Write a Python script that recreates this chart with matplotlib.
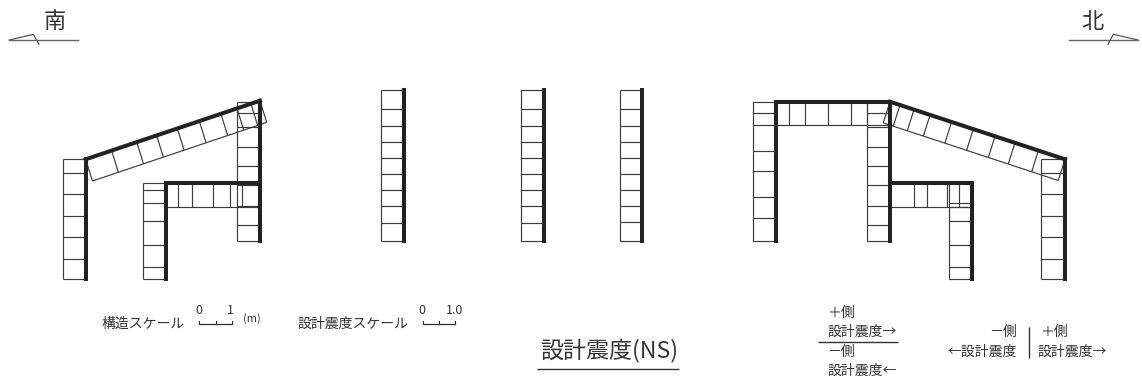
import matplotlib
matplotlib.use('Agg')
import matplotlib.pyplot as plt
import numpy as np

plt.rcParams['font.family'] = ['Noto Sans CJK JP', 'DejaVu Sans']

# ---- Structure data (drawing units = reference pixels) ----
# Columns: left edge, right edge (thick side), cell boundary levels
COLUMNS = [
    # south frames
    (62.7, 85.7, [159.3, 173.3, 194.3, 216, 237.3, 258.7, 279.3]),
    (142.7, 166, [183.3, 190, 202.7, 220.7, 244.7, 267.3, 279.3]),
    (237, 260, [101.7, 112.7, 127.3, 146.7, 166, 185.3, 206, 225.3, 241.3]),
    # three free-standing walls
    (381.3, 403.8, [90.3, 109.3, 125.7, 141.7, 157.7, 173.7, 189.7, 205.7, 223.3, 241]),
    (520.7, 543.8, [90.3, 109.3, 125.7, 141.7, 157.7, 173.7, 189.7, 205.7, 223.3, 241]),
    (620, 642.2, [90.3, 109.3, 125.7, 141.7, 157.7, 173.7, 189.7, 205.7, 221.7, 241]),
    # north frames
    (752.7, 776, [101.7, 112.7, 125.3, 151.3, 170.7, 196.7, 218.3, 241.3]),
    (866.7, 890, [101.7, 112.7, 127.3, 146.7, 166, 184.7, 206, 225.3, 241.3]),
    (948.7, 971.7, [183.3, 203.3, 207, 220.7, 244.7, 267.3, 279.3]),
    (1041.3, 1065, [159.3, 173.3, 194.3, 216, 237.3, 258.7, 279.3]),
]
# Beams: x start, x end, top level, bottom level, cell boundary stations
BEAMS = [
    (166, 260, 183.3, 206.7, [178.3, 191.7, 213.3, 230, 242.3]),
    (776, 889.3, 101.7, 125.3, [789, 805.3, 827.7, 850.7, 866.7]),
    (890, 971.7, 183.3, 206.7, [914, 926.7, 946.7, 959]),
]
# Sloped roofs: start point, end point, offset of the result edge, stations (fraction)
ROOFS = [
    ((85.7, 159.3), (260, 100.7), (6.7, 21.7),
     [0.149, 0.293, 0.407, 0.526, 0.652, 0.776, 0.868, 0.948]),
    ((890, 101.7), (1065, 159.3), (-6.7, 21.2),
     [0.057, 0.137, 0.229, 0.352, 0.476, 0.600, 0.714, 0.848]),
]
NORTH_ARROW_S = [(9.3, 40), (33.3, 34.3), (39, 44.3)]
NORTH_ARROW_S_LINE = [(9.3, 40), (78, 40)]
NORTH_ARROW_N = [(1138, 40), (1113.3, 34.3), (1108, 44.3)]
NORTH_ARROW_N_LINE = [(1069.3, 40), (1138, 40)]

# Scale bars: x start, x end, level
SCALES = [(199.3, 231.7, 324.3), (422.7, 455, 324.3)]

# Text: x, y, string, size, horizontal alignment
LABELS = [
    (55, 21, '南', 16, 'center'),
    (1092, 22, '北', 16, 'center'),
    (102, 324, '構造スケール', 10, 'left'),
    (297, 324, '設計震度スケール', 10, 'left'),
    (198.7, 311, '0', 9, 'center'),
    (230.7, 311, '1', 9, 'center'),
    (251.7, 319, '(m)', 8, 'center'),
    (421.7, 311, '0', 9, 'center'),
    (455, 311, '1.0', 9, 'center'),
    (827, 312.7, '＋側', 10, 'left'),
    (827, 332, '設計震度→', 10, 'left'),
    (827, 351.7, '－側', 10, 'left'),
    (827, 371, '設計震度←', 10, 'left'),
    (1017, 332, '－側', 10, 'right'),
    (1017, 351.5, '←設計震度', 10, 'right'),
    (1040, 332, '＋側', 10, 'left'),
    (1038, 351.5, '設計震度→', 10, 'left'),
    (540.5, 350, '設計震度(NS)', 16.6, 'left'),
]
RULES = [((818, 898), (342.3, 342.3), 1.0), ((537, 679), (369, 369), 1.0),
         ((1029, 1029), (327, 358), 1.0)]

THIN = dict(color='#3c3c3c', lw=0.85, solid_capstyle='butt', zorder=2)
THICK = dict(color='#222222', lw=2.9, solid_capstyle='projecting', zorder=3)

fig = plt.figure(figsize=(11.42, 3.85), dpi=100, facecolor='white')
ax = fig.add_axes([0, 0, 1, 1])
ax.set_xlim(0, 1142)
ax.set_ylim(385, 0)
ax.axis('off')

for xl, xr, ys in COLUMNS:
    for y in ys:
        ax.plot([xl, xr], [y, y], **THIN)
    ax.plot([xl, xl], [ys[0], ys[-1]], **THIN)
    ax.plot([xr, xr], [ys[0], ys[-1]], **THICK)

for x0, x1, yt, yb, stations in BEAMS:
    ax.plot([x0, x1], [yb, yb], **THIN)
    for s in stations:
        ax.plot([s, s], [yt, yb], **THIN)
    ax.plot([x0, x1], [yt, yt], **THICK)

for (x0, y0), (x1, y1), (dx, dy), fr in ROOFS:
    ax.plot([x0 + dx, x1 + dx], [y0 + dy, y1 + dy], **THIN)
    ax.plot([x0, x0 + dx], [y0, y0 + dy], **THIN)
    ax.plot([x1, x1 + dx], [y1, y1 + dy], **THIN)
    for f in fr:
        xs = x0 + f * (x1 - x0)
        ys_ = y0 + f * (y1 - y0)
        ax.plot([xs, xs + dx], [ys_, ys_ + dy], **THIN)
    ax.plot([x0, x1], [y0, y1], **THICK)

for pts in (NORTH_ARROW_S, NORTH_ARROW_N):
    ax.plot(*zip(*pts), color='#444444', lw=0.8, zorder=2)
for pts in (NORTH_ARROW_S_LINE, NORTH_ARROW_N_LINE):
    ax.plot(*zip(*pts), color='#666666', lw=1.0, zorder=2)

for x0, x1, y in SCALES:
    ax.plot([x0, x1], [y, y], color='#333333', lw=0.9)
    for x in (x0, (x0 + x1) / 2, x1):
        ax.plot([x, x], [y, y - 3], color='#333333', lw=0.8)

for x, y, s, size, ha in LABELS:
    ax.text(x, y, s, fontsize=size, ha=ha, va='center', color='#333333')

for xs, ys, lw in RULES:
    ax.plot(xs, ys, color='#333333', lw=lw, solid_capstyle='butt')

fig.savefig('out.png', dpi=100, facecolor='white')
